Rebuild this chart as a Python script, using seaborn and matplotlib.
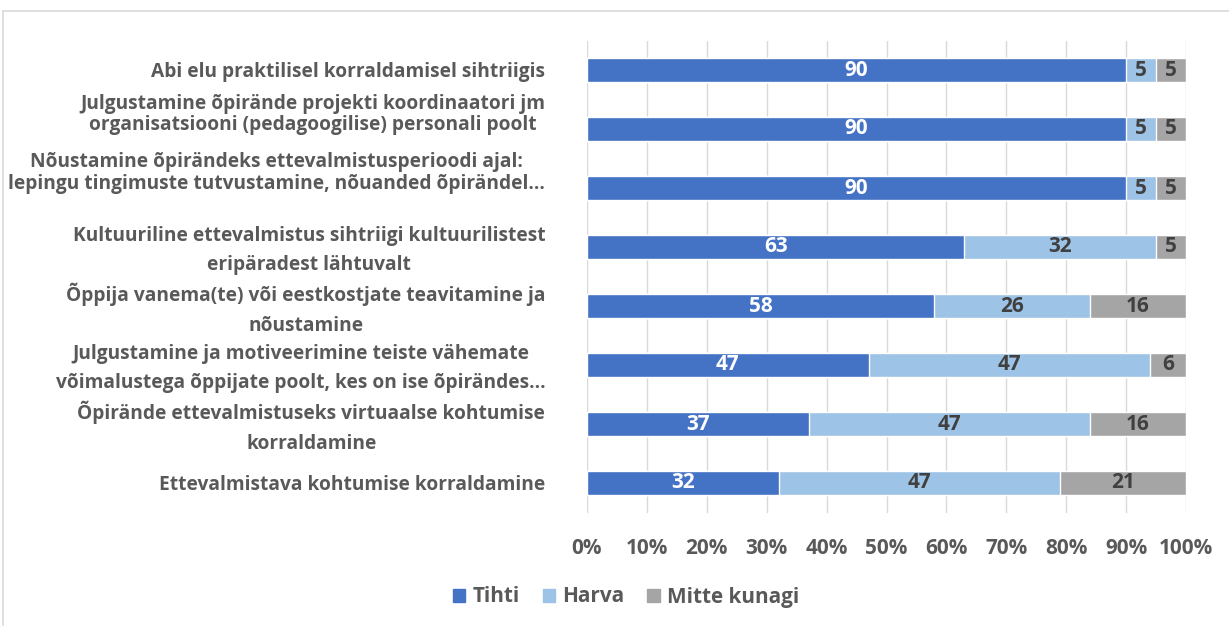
import numpy as np
import pandas as pd
import seaborn as sns
import matplotlib.pyplot as plt
from matplotlib.patches import Patch
from matplotlib.transforms import ScaledTranslation

# Survey data (percent)
categories = [
    "Abi elu praktilisel korraldamisel sihtriigis",
    "Julgustamine õpirände projekti koordinaatori jm\norganisatsiooni (pedagoogilise) personali poolt",
    "Nõustamine õpirändeks ettevalmistusperioodi ajal:\nlepingu tingimuste tutvustamine, nõuanded õpirändel...",
    "Kultuuriline ettevalmistus sihtriigi kultuurilistest\neripäradest lähtuvalt",
    "Õppija vanema(te) või eestkostjate teavitamine ja\nnõustamine",
    "Julgustamine ja motiveerimine teiste vähemate\nvõimalustega õppijate poolt, kes on ise õpirändes...",
    "Õpirände ettevalmistuseks virtuaalse kohtumise\nkorraldamine",
    "Ettevalmistava kohtumise korraldamine",
]
tihti = [90, 90, 90, 63, 58, 47, 37, 32]
harva = [5, 5, 5, 32, 26, 47, 47, 47]
mitte = [5, 5, 5, 5, 16, 6, 16, 21]
series_names = ["Tihti", "Harva", "Mitte kunagi"]
colors = ["#4472C4", "#9DC3E6", "#A5A5A5"]
text_gray = "#595959"

df = pd.DataFrame({"cat": categories, "Tihti": tihti, "Harva": harva, "Mitte kunagi": mitte})
df["c1"] = df["Tihti"]
df["c2"] = df["Tihti"] + df["Harva"]
df["c3"] = df["c2"] + df["Mitte kunagi"]

sns.set_style("white")
plt.rcParams["font.family"] = ["Open Sans", "DejaVu Sans"]
plt.rcParams["font.weight"] = "bold"

fig = plt.figure(figsize=(12.29, 6.26), dpi=100)

# font size: the widest label line has to fit left of the axis
renderer = fig.canvas.get_renderer()
probe = fig.text(0, 0, "lepingu tingimuste tutvustamine, nõuanded õpirändel...",
                 fontsize=10, fontweight="bold")
w = probe.get_window_extent(renderer=renderer).width
probe.remove()
fs = 10 * 538 / w

ax = fig.add_axes([587 / 1229, 1 - 512.5 / 626, (1186 - 587) / 1229, (512.5 - 40.5) / 626])

# stacked bars drawn back to front from cumulative totals
for col, color in zip(["c3", "c2", "c1"], colors[::-1]):
    sns.barplot(data=df, x=col, y="cat", color=color, width=0.39,
                saturation=1, ax=ax, orient="h", zorder=3)

# segment value labels
lefts = np.zeros(len(df))
for name, txtcol in zip(series_names, ["white", "#404040", "#404040"]):
    vals = df[name].to_numpy()
    for i, v in enumerate(vals):
        ax.text(lefts[i] + v / 2, i, f"{v}", ha="center", va="center",
                color=txtcol, fontsize=fs * 1.08, fontweight="bold", zorder=5)
    lefts += vals

ax.set_xlim(0, 100)
ax.set_xticks(np.arange(0, 101, 10))
ax.set_xticklabels([f"{t}%" for t in range(0, 101, 10)])
ax.set_xlabel("")
ax.set_ylabel("")
ax.grid(axis="x", color="#D9D9D9", linewidth=1, zorder=0)
for s in ax.spines.values():
    s.set_visible(False)
ax.tick_params(axis="x", length=0, pad=18, labelsize=fs * 1.08, labelcolor=text_gray)
ax.tick_params(axis="y", length=0, pad=30, labelsize=fs, labelcolor=text_gray)
for k, lab in enumerate(ax.get_yticklabels()):
    lab.set_multialignment("center")
    lab.set_linespacing(1.65)
    if k in (1, 2):
        # Excel squeezes the second and third labels upward
        lab.set_linespacing(1.1)
        shift = 18
    elif "\n" in lab.get_text():
        shift = 4
    else:
        shift = 0
    lab.set_transform(lab.get_transform() + ScaledTranslation(0, shift / 100, fig.dpi_scale_trans))

handles = [Patch(color=c, label=n) for n, c in zip(series_names, colors)]
leg = fig.legend(handles=handles, loc="center", bbox_to_anchor=(626 / 1229, 1 - 597 / 626),
                 ncol=3, frameon=False, fontsize=fs * 1.08, handlelength=0.6, handleheight=0.6,
                 handletextpad=0.35, columnspacing=1.1)
for t in leg.get_texts():
    t.set_color(text_gray)

# chart border
fig.add_artist(plt.Line2D([3 / 1229, 3 / 1229], [0, 1 - 11 / 626], color="#D9D9D9", lw=1.2))
fig.add_artist(plt.Line2D([3 / 1229, 1], [1 - 11 / 626, 1 - 11 / 626], color="#D9D9D9", lw=1.2))

fig.savefig("out.png", dpi=100)
